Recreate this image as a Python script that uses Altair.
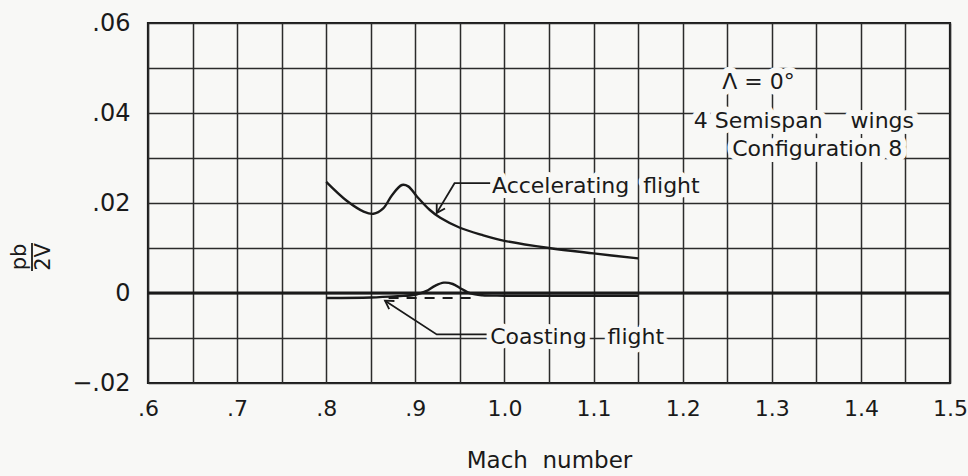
import altair as alt
import pandas as pd

# Accelerating flight: roll parameter pb/2V against Mach number
mach_acc = [0.800, 0.823, 0.842, 0.853, 0.864, 0.874, 0.885, 0.892, 0.902,
            0.916, 0.928, 0.950, 0.975, 1.000, 1.050, 1.100, 1.150]
pb2v_acc = [0.0247, 0.0205, 0.0181, 0.0176, 0.0188, 0.0218, 0.0240, 0.0237,
            0.0214, 0.0185, 0.0167, 0.0145, 0.0129, 0.0116, 0.0100, 0.0088, 0.0077]

# Coasting flight (solid) and its faired dashed path under the hump
mach_coast = [0.80, 0.85, 0.88, 0.90, 0.912, 0.922, 0.932, 0.942, 0.952,
              0.962, 0.975, 1.00, 1.10, 1.15]
pb2v_coast = [-0.0011, -0.0010, -0.0007, -0.0004, 0.0004, 0.0016, 0.0023,
              0.0020, 0.0009, -0.0001, -0.0005, -0.0006, -0.0006, -0.0006]
mach_coast_dash = [0.87, 0.97]
pb2v_coast_dash = [-0.0011, -0.0011]

# Grid positions
x_grid = [0.60, 0.65, 0.70, 0.75, 0.80, 0.85, 0.90, 0.95, 1.00, 1.05,
          1.10, 1.15, 1.20, 1.25, 1.30, 1.35, 1.40, 1.45, 1.50]
y_grid = [-0.02, -0.01, 0.0, 0.01, 0.02, 0.03, 0.04, 0.05, 0.06]

NB = "\u00a0"

# Callouts
acc_label = "Accelerating" + NB * 2 + "flight"
acc_label_pos = (0.986, 0.0237)
acc_leader_mach = [0.984, 0.944, 0.924]
acc_leader_pb2v = [0.0244, 0.0244, 0.0178]

coast_label = "Coasting" + NB * 3 + "flight"
coast_label_pos = (0.984, -0.0097)
coast_leader_mach = [0.980, 0.924, 0.866]
coast_leader_pb2v = [-0.0092, -0.0092, -0.0017]

note_lines = ["\u039b = 0\u00b0", "4 Semispan" + NB * 4 + "wings", "Configuration 8"]
note_mach = [1.285, 1.336, 1.351]
note_pb2v = [0.0468, 0.0382, 0.0320]

BG = "#f8f8f6"
INK = "#1a1a1a"
FONT = "DejaVu Sans"

x_axis = alt.Axis(
    values=x_grid,
    labelExpr=("abs(datum.value*10 - round(datum.value*10)) > 0.01 ? '' : "
               "(datum.value < 1 ? replace(format(datum.value, '.1f'), '0.', '.') "
               ": format(datum.value, '.1f'))"),
    grid=True, gridColor="#2b2b2b", gridWidth=1.5, gridOpacity=1,
    ticks=False, domain=False,
    labelFont=FONT, labelFontSize=22, labelColor=INK, labelPadding=15,
    labelFlush=False,
    titleFont=FONT, titleFontSize=23, titleColor=INK, titleFontWeight=500,
    titlePadding=30,
)
y_axis = alt.Axis(
    values=y_grid,
    labelExpr=("datum.value == 0 ? '0' : "
               "(round(datum.value*100) % 2 != 0 ? '' : "
               "replace(replace(format(datum.value, '.2f'), '0.', '.'), '-', '\u2212'))"),
    grid=True, gridColor="#2b2b2b", gridWidth=1.5, gridOpacity=1,
    ticks=False, domain=False,
    labelFont=FONT, labelFontSize=24, labelColor=INK, labelPadding=18,
    labelFlush=False, title=None,
)

enc_x = alt.X("mach:Q", scale=alt.Scale(domain=[0.6, 1.5], nice=False, zero=False),
              axis=x_axis, title="Mach" + NB * 2 + "number")
enc_y = alt.Y("pb2v:Q", scale=alt.Scale(domain=[-0.02, 0.06], nice=False, zero=False),
              axis=y_axis)

acc_df = pd.DataFrame({"mach": mach_acc, "pb2v": pb2v_acc})
coast_df = pd.DataFrame({"mach": mach_coast, "pb2v": pb2v_coast})
dash_df = pd.DataFrame({"mach": mach_coast_dash, "pb2v": pb2v_coast_dash})
zero_df = pd.DataFrame({"pb2v": [0.0]})

label_df = pd.DataFrame({
    "mach": [acc_label_pos[0], coast_label_pos[0]],
    "pb2v": [acc_label_pos[1], coast_label_pos[1]],
    "text": [acc_label, coast_label],
})
note_df = pd.DataFrame({"mach": note_mach, "pb2v": note_pb2v, "text": note_lines})
acc_lead_df = pd.DataFrame({"mach": acc_leader_mach, "pb2v": acc_leader_pb2v})
coast_lead_df = pd.DataFrame({"mach": coast_leader_mach, "pb2v": coast_leader_pb2v})

tips_df = pd.DataFrame({
    "mach": [acc_leader_mach[-1], coast_leader_mach[-1]],
    "pb2v": [acc_leader_pb2v[-1], coast_leader_pb2v[-1]],
    "ang": [121, 213],
})

# White halos that break the grid behind the lettering
halo_labels = alt.Chart(label_df).mark_text(
    align="left", baseline="middle", font=FONT, fontSize=22,
    fill=BG, stroke=BG, strokeWidth=10, strokeJoin="round",
).encode(x=enc_x, y=enc_y, text="text:N")
halo_notes = alt.Chart(note_df).mark_text(
    align="center", baseline="middle", font=FONT, fontSize=22,
    fill=BG, stroke=BG, strokeWidth=12, strokeJoin="round",
).encode(x=enc_x, y=enc_y, text="text:N")

zero_line = alt.Chart(zero_df).mark_rule(color=INK, strokeWidth=3).encode(y=enc_y)

acc_line = alt.Chart(acc_df).mark_line(
    color=INK, strokeWidth=2.4, interpolate="catmull-rom"
).encode(x=enc_x, y=enc_y)
coast_line = alt.Chart(coast_df).mark_line(
    color=INK, strokeWidth=2.4, interpolate="catmull-rom"
).encode(x=enc_x, y=enc_y)
dash_line = alt.Chart(dash_df).mark_line(
    color=INK, strokeWidth=2, strokeDash=[10, 8]
).encode(x=enc_x, y=enc_y)

acc_leader = alt.Chart(acc_lead_df).mark_line(color=INK, strokeWidth=1.8).encode(
    x=enc_x, y=enc_y, order=alt.Order("mach:Q", sort="descending"))
coast_leader = alt.Chart(coast_lead_df).mark_line(color=INK, strokeWidth=1.8).encode(
    x=enc_x, y=enc_y, order=alt.Order("mach:Q", sort="descending"))

arrow_heads = alt.Chart(tips_df).mark_point(
    shape="M -1 -0.6 L 0 0 L -1 0.6", filled=False, color=INK,
    strokeWidth=1.8, size=260, opacity=1,
).encode(x=enc_x, y=enc_y, angle=alt.Angle("ang:Q", scale=None))

labels = alt.Chart(label_df).mark_text(
    align="left", baseline="middle", font=FONT, fontSize=22, color=INK,
).encode(x=enc_x, y=enc_y, text="text:N")
notes = alt.Chart(note_df).mark_text(
    align="center", baseline="middle", font=FONT, fontSize=22, color=INK,
).encode(x=enc_x, y=enc_y, text="text:N")

# Y-axis title drawn as the fraction pb / 2V
frac_df = pd.DataFrame({"t": ["pb", "2V"], "px": [-128, -104]})
frac_text = alt.Chart(frac_df).mark_text(
    angle=270, align="center", baseline="middle", font=FONT, fontSize=21, color=INK,
).encode(x=alt.X("px:Q", scale=None), y=alt.value(234), text="t:N")
frac_bar = alt.Chart(zero_df).mark_rule(color=INK, strokeWidth=1.8).encode(
    x=alt.value(-116), y=alt.value(220), y2=alt.value(248))

chart = alt.layer(
    halo_labels, halo_notes, zero_line, dash_line, acc_line, coast_line,
    acc_leader, coast_leader, arrow_heads, labels, notes, frac_text, frac_bar,
).properties(
    width=802, height=360,
    padding={"left": 148, "top": 23, "right": 18, "bottom": 93},
    autosize="none", background=BG,
).configure_view(stroke=INK, strokeWidth=2.2)

chart.save("out.html", embed_options={"renderer": "svg", "actions": False})
